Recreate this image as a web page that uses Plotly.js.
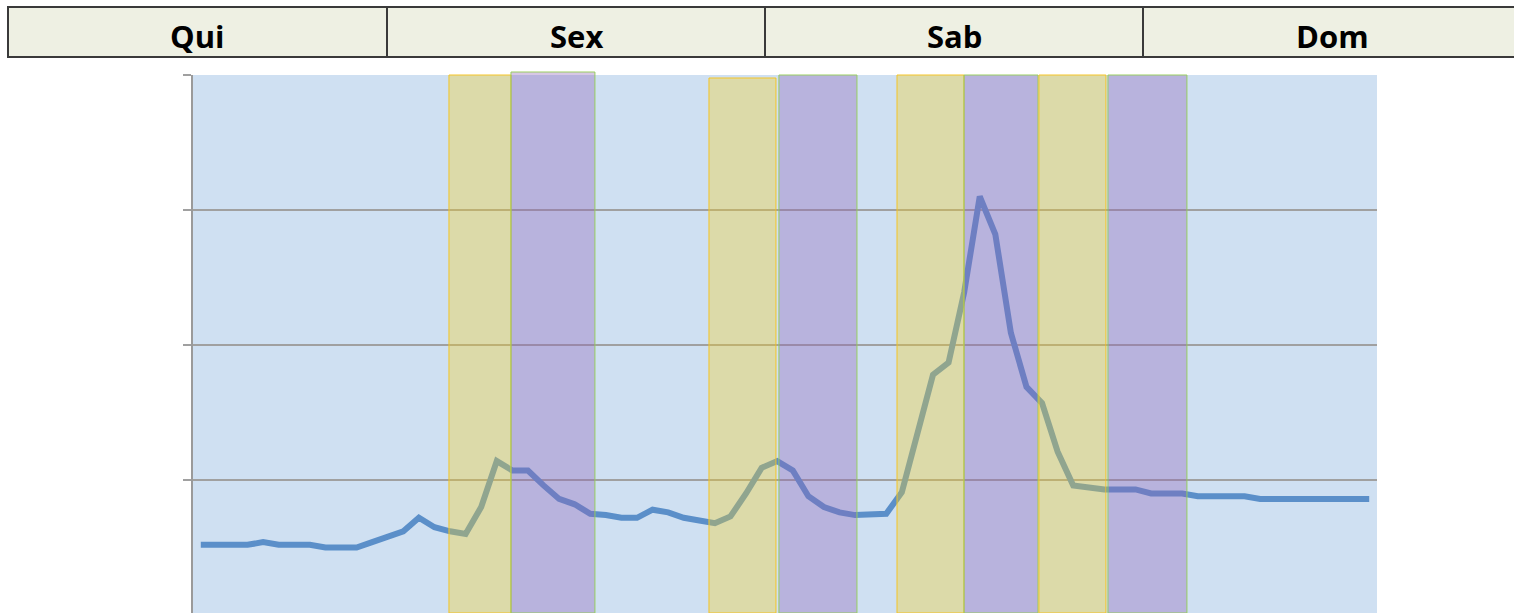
<!DOCTYPE html>
<html>
<head>
<meta charset="utf-8">
<script src="https://cdn.plot.ly/plotly-3.0.1.min.js"></script>
<style>html,body{margin:0;padding:0;background:#fff;}#chart{width:1514px;height:613px;}</style>
</head>
<body>
<div id="chart"></div>
<script>
// Day header labels
var days = ['Qui', 'Sex', 'Sab', 'Dom'];

// Time slots (category index) and measured series
var slots = [];
for (var k = 0; k < 76; k++) slots.push(k);
var values = [
  0.52, 0.52, 0.52, 0.52, 0.54, 0.52, 0.52, 0.52, 0.50, 0.50,
  0.50, 0.54, 0.58, 0.62, 0.72, 0.65, 0.62, 0.60, 0.80, 1.14,
  1.07, 1.07, 0.96, 0.86, 0.82, 0.75, 0.74, 0.72, 0.72, 0.78,
  0.76, 0.72, 0.70, 0.68, 0.73, 0.90, 1.09, 1.14, 1.07, 0.88,
  0.80, 0.76, 0.74, 0.74, 0.75, 0.91, 1.36, 1.78, 1.87, 2.39,
  3.10, 2.82, 2.09, 1.69, 1.57, 1.21, 0.96, 0.94, 0.93, 0.93,
  0.93, 0.90, 0.90, 0.90, 0.88, 0.88, 0.88, 0.88, 0.86, 0.86,
  0.86, 0.86, 0.86, 0.86, 0.86, 0.86
];

// Highlighted periods (in slot units) and their kind
var bandStart = [15.93, 19.91, 32.62, 37.11, 44.69, 48.99, 53.80, 58.23];
var bandEnd   = [19.91, 25.30, 36.92, 42.12, 48.99, 53.74, 58.10, 63.30];
var bandKind  = ['A', 'B', 'A', 'B', 'A', 'B', 'A', 'B'];

// ---- layout helpers (pixels -> paper) ----
var W = 1514, H = 613;
var L = 193, R = 1377, T = 75, B = 613;
function px(x) { return (x - L) / (R - L); }
function py(y) { return (B - y) / (B - T); }

var shapes = [];
var annotations = [];

// bands overlay
var bandTop = [75, 72, 78, 75, 75, 75, 75, 75];
for (var i = 0; i < bandStart.length; i++) {
  var isA = bandKind[i] === 'A';
  shapes.push({
    type: 'rect', layer: 'above', xref: 'x', yref: 'paper',
    x0: bandStart[i], x1: bandEnd[i], y0: 0, y1: py(bandTop[i]),
    fillcolor: isA ? 'rgba(244,207,33,0.35)' : 'rgba(143,99,184,0.36)',
    line: {color: isA ? 'rgba(245,195,30,0.95)' : 'rgba(150,205,90,0.95)', width: 1}
  });
}

// header table
var cellEdges = [8, 387, 765, 1143, 1522];
for (var d = 0; d < days.length; d++) {
  shapes.push({
    type: 'rect', layer: 'above', xref: 'paper', yref: 'paper',
    x0: px(cellEdges[d]), x1: px(cellEdges[d + 1]), y0: py(57), y1: py(7),
    fillcolor: '#eef0e3', line: {color: '#3a3a3a', width: 2}
  });
  annotations.push({
    xref: 'paper', yref: 'paper',
    x: px((cellEdges[d] + cellEdges[d + 1]) / 2), y: py(36),
    xanchor: 'center', yanchor: 'middle', showarrow: false,
    text: '<b>' + days[d] + '</b>',
    font: {family: 'Open Sans, Lato, sans-serif', size: 31, color: '#000'}
  });
}

var trace = {
  x: slots, y: values, type: 'scatter', mode: 'lines',
  line: {color: 'rgb(91,143,201)', width: 6},
  hoverinfo: 'none', cliponaxis: false
};

var layout = {
  width: W, height: H,
  margin: {l: L, r: W - R, t: T, b: H - B, pad: 0},
  paper_bgcolor: '#ffffff',
  plot_bgcolor: '#cfe0f2',
  showlegend: false,
  xaxis: {range: [-0.5, 75.5], showgrid: false, zeroline: false, showline: false,
          showticklabels: false, ticks: '', fixedrange: true},
  yaxis: {range: [4 - (B - T) / 135, 4], tickvals: [1, 2, 3, 4], showticklabels: false,
          ticks: 'outside', ticklen: 8, tickwidth: 2, tickcolor: '#a0a0a0',
          showgrid: true, gridcolor: '#a0a0a0', gridwidth: 2, zeroline: false,
          showline: true, linecolor: '#9a9a9a', linewidth: 2, fixedrange: true},
  shapes: shapes,
  annotations: annotations
};

Plotly.newPlot('chart', [trace], layout, {displayModeBar: false, staticPlot: true});
</script>
</body>
</html>
